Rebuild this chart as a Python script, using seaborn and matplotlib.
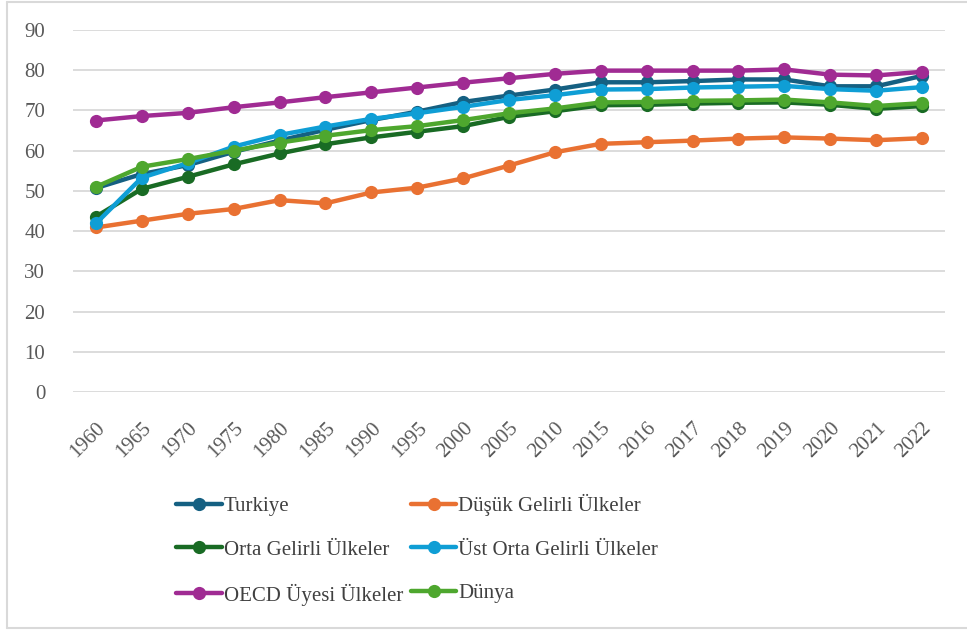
import numpy as np
import pandas as pd
import seaborn as sns
from matplotlib import pyplot as plt
from matplotlib.lines import Line2D

# Data
years = ["1960", "1965", "1970", "1975", "1980", "1985", "1990", "1995", "2000", "2005",
         "2010", "2015", "2016", "2017", "2018", "2019", "2020", "2021", "2022"]

turkiye = [50.7, 54.2, 56.4, 59.7, 62.5, 65.2, 67.6, 69.7, 72.1, 73.7,
           75.2, 77.0, 77.0, 77.3, 77.7, 77.7, 76.0, 76.0, 78.6]
dusuk = [40.9, 42.6, 44.3, 45.5, 47.7, 46.9, 49.6, 50.8, 53.1, 56.3,
         59.6, 61.7, 62.1, 62.5, 63.0, 63.3, 63.0, 62.6, 63.1]
orta = [43.6, 50.5, 53.5, 56.6, 59.3, 61.6, 63.3, 64.7, 66.1, 68.4,
        69.8, 71.3, 71.4, 71.7, 71.9, 72.0, 71.4, 70.4, 71.1]
ust_orta = [41.9, 53.3, 56.9, 61.0, 63.9, 66.0, 67.9, 69.3, 70.9, 72.6,
            73.8, 75.2, 75.3, 75.7, 75.9, 76.1, 75.3, 74.9, 75.8]
oecd = [67.5, 68.6, 69.4, 70.8, 72.0, 73.3, 74.5, 75.7, 76.9, 78.0,
        79.1, 79.9, 79.9, 79.9, 79.9, 80.2, 78.9, 78.7, 79.6]
dunya = [51.0, 56.0, 57.9, 60.0, 62.0, 63.7, 65.1, 66.1, 67.6, 69.3,
         70.5, 72.0, 72.1, 72.4, 72.5, 72.7, 72.0, 71.1, 71.8]

series = {
    "Turkiye": turkiye,
    "Düşük Gelirli Ülkeler": dusuk,
    "Orta Gelirli Ülkeler": orta,
    "Üst Orta Gelirli Ülkeler": ust_orta,
    "OECD Üyesi Ülkeler": oecd,
    "Dünya": dunya,
}
colors = ["#156082", "#E97132", "#196B24", "#0F9ED5", "#A02B93", "#4EA72E"]

# long format table
df = pd.concat([pd.DataFrame({"pos": np.arange(len(years)), "Yıl": years,
                              "Değer": vals, "Seri": name})
                for name, vals in series.items()], ignore_index=True)

sns.set_style("white")
plt.rcParams['font.family'] = ['Liberation Serif', 'DejaVu Serif']

fig = plt.figure(figsize=(9.67, 6.3), dpi=100)
ax = fig.add_axes([73 / 967, 1 - 392 / 630, 872 / 967, 362 / 630])

for (name, _), col in zip(series.items(), colors):
    sns.lineplot(data=df[df["Seri"] == name], x="pos", y="Değer", ax=ax, color=col,
                 linewidth=3.2, marker="o", markersize=9.5, markeredgewidth=0,
                 label=name, legend=False)

ax.set_xlim(-0.5, len(years) - 0.5)
ax.set_ylim(0, 90)
ax.set_yticks(range(0, 91, 10))
ax.set_xticks(range(len(years)))
ax.set_xticklabels(years, rotation=45, ha="right", rotation_mode="anchor")
ax.tick_params(axis="both", labelsize=15, labelcolor="#595959", length=0)
ax.tick_params(axis="x", pad=19)
ax.tick_params(axis="y", pad=20)
ax.grid(axis="y", color="#d9d9d9", linewidth=1.3)
ax.set_axisbelow(True)
for s in ax.spines.values():
    s.set_visible(False)
ax.set_xlabel("")
ax.set_ylabel("")

# legend in row order like the original
handles, labels = ax.get_legend_handles_labels()
order = [0, 2, 4, 1, 3, 5]
fig.legend([handles[i] for i in order], [labels[i] for i in order],
           ncol=2, loc="upper left", bbox_to_anchor=(176 / 967, 1 - 494 / 630),
           frameon=False, fontsize=15, handlelength=2.2, handletextpad=0.1,
           columnspacing=0.35, labelspacing=1.15, labelcolor="#404040",
           borderaxespad=0, borderpad=0)

# outer chart frame (no right edge visible in the original)
frame = dict(transform=fig.transFigure, color="#d9d9d9", linewidth=1.5)
fig.lines.append(Line2D([7 / 967, 1], [1 - 1.5 / 630] * 2, **frame))
fig.lines.append(Line2D([7 / 967, 1], [1 - 628 / 630] * 2, **frame))
fig.lines.append(Line2D([7 / 967] * 2, [1 - 628 / 630, 1 - 1.5 / 630], **frame))

fig.savefig("out.png", dpi=100)
